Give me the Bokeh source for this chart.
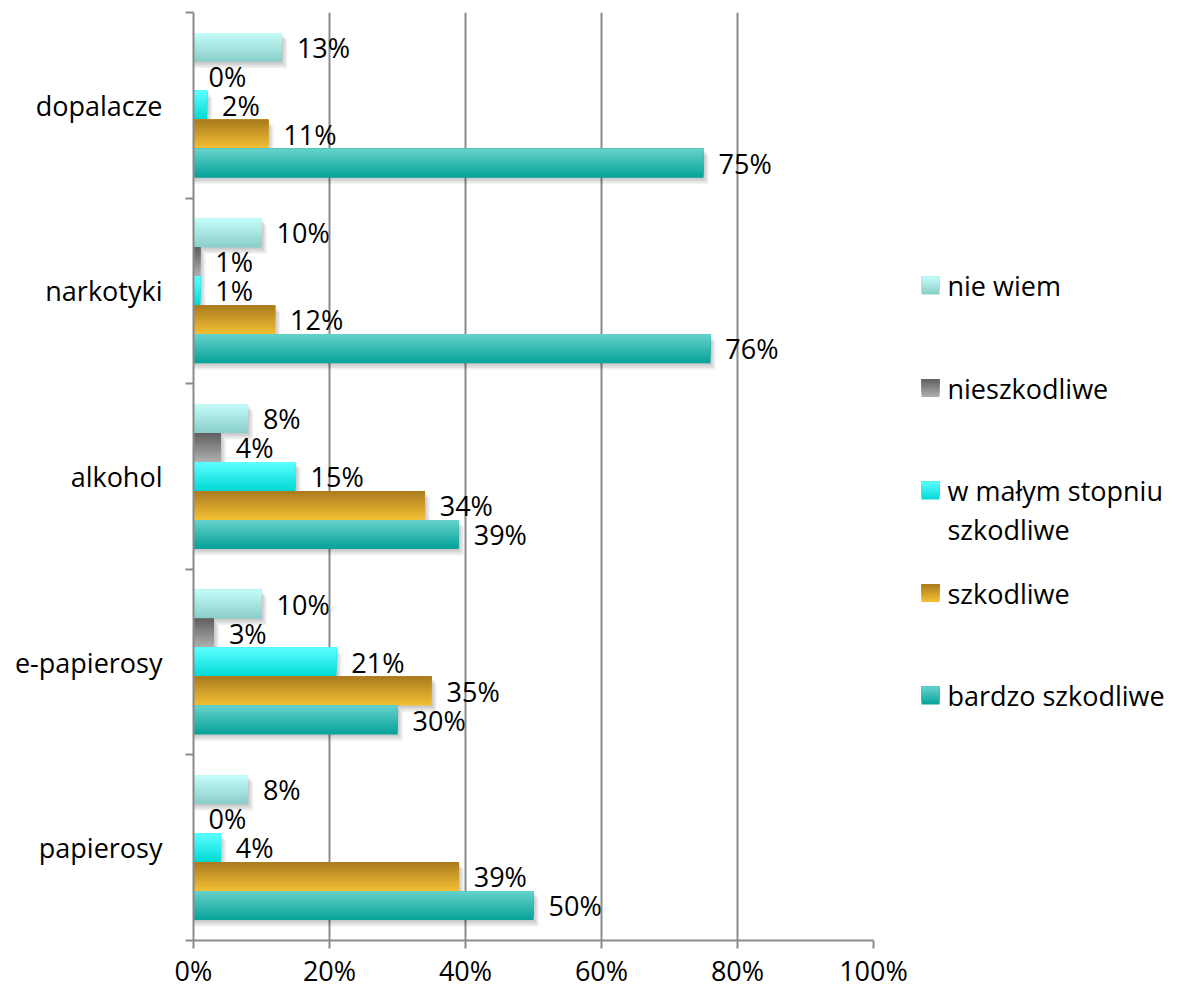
from bokeh.plotting import figure
from bokeh.models import Range1d, FixedTicker, PrintfTickFormatter
from bokeh.layouts import row
from bokeh.embed import file_html
from bokeh.resources import INLINE
from bokeh.core.properties import value

# ---------------- data ----------------
categories = ["dopalacze", "narkotyki", "alkohol", "e-papierosy", "papierosy"]
series_names = ["nie wiem", "nieszkodliwe", "w małym stopniu szkodliwe",
                "szkodliwe", "bardzo szkodliwe"]
nie_wiem = [13, 10, 8, 10, 8]
nieszkodliwe = [0, 1, 4, 3, 0]
w_malym_stopniu = [2, 1, 15, 21, 4]
szkodliwe = [11, 12, 34, 35, 39]
bardzo_szkodliwe = [75, 76, 39, 30, 50]
x_ticks = [0, 20, 40, 60, 80, 100]

# ---------------- style ----------------
FONT = "Open Sans"
FS = "27px"
GRID = "#8a8a8a"
series = [nie_wiem, nieszkodliwe, w_malym_stopniu, szkodliwe, bardzo_szkodliwe]
gradients = [("#c4fdf9", "#8acdc8"), ("#5f5f5f", "#b0b0b0"),
             ("#5cffff", "#00d9d5"), ("#a97b1e", "#f4c035"),
             ("#66d3cb", "#05a199")]


def lerp(c1, c2, t):
    a = [int(c1[i:i + 2], 16) for i in (1, 3, 5)]
    b = [int(c2[i:i + 2], 16) for i in (1, 3, 5)]
    return "#%02x%02x%02x" % tuple(round(a[k] + (b[k] - a[k]) * t) for k in range(3))


n = len(categories)
ypos = [n - 1 - i for i in range(n)]
group = 0.78
bh = group / len(series)
FRAME_W, FRAME_H = 680, 928
TOP = 12
px_y = n / FRAME_H
px_x = 100 / FRAME_W
H = 992

p = figure(width=913, height=H, x_range=Range1d(0, 100),
           y_range=Range1d(-0.5, n - 0.5), output_backend="svg",
           toolbar_location=None, min_border_left=193, min_border_right=40,
           min_border_top=TOP, min_border_bottom=52)
p.outline_line_color = None
p.background_fill_color = "white"
p.ygrid.visible = False
p.xgrid.grid_line_color = GRID
p.xgrid.grid_line_width = 2

# shadows
for s_i, vals in enumerate(series):
    off = group / 2 - bh / 2 - s_i * bh
    for k in range(1, 5):
        p.hbar(y=[y + off - k * 1.6 * px_y for y in ypos], left=0,
               right=[v + k * 1.3 * px_x if v else 0 for v in vals],
               height=bh, fill_color="black", fill_alpha=0.055, line_color=None)

# bars with vertical gradient (layered from the top edge)
N = 14
for s_i, vals in enumerate(series):
    off = group / 2 - bh / 2 - s_i * bh
    c_top, c_bot = gradients[s_i]
    for j in range(N - 1, -1, -1):
        t = (j + 0.5) / N
        hj = (j + 1) / N * bh
        yc = [y + off + bh / 2 - hj / 2 for y in ypos]
        p.hbar(y=yc, left=0, right=vals, height=hj,
               fill_color=lerp(c_top, c_bot, t), line_color=None)

# value labels
for s_i, vals in enumerate(series):
    off = group / 2 - bh / 2 - s_i * bh
    p.text(x=vals, y=[y + off for y in ypos], text=[f"{v}%" for v in vals],
           x_offset=15, text_baseline="middle", text_align="left",
           text_font=value(FONT), text_font_size=FS, text_color="black")

# x axis
xa = p.xaxis[0]
xa.ticker = FixedTicker(ticks=x_ticks)
xa.formatter = PrintfTickFormatter(format="%d%%")
xa.major_label_text_font = FONT
xa.major_label_text_font_size = FS
xa.major_label_text_color = "black"
xa.axis_line_color = GRID
xa.axis_line_width = 2
xa.major_tick_line_color = GRID
xa.major_tick_line_width = 2
xa.major_tick_out = 8
xa.major_tick_in = 0
xa.minor_tick_line_color = None
xa.major_label_standoff = 3

# y axis
ya = p.yaxis[0]
ya.ticker = FixedTicker(ticks=ypos, minor_ticks=[k - 0.5 for k in range(n + 1)])
ya.major_label_overrides = {y: c for y, c in zip(ypos, categories)}
ya.major_label_text_font = FONT
ya.major_label_text_font_size = FS
ya.major_label_text_color = "black"
ya.axis_line_color = GRID
ya.axis_line_width = 2
ya.major_tick_line_color = None
ya.major_tick_out = 0
ya.major_tick_in = 0
ya.minor_tick_line_color = GRID
ya.minor_tick_line_width = 2
ya.minor_tick_out = 8
ya.minor_tick_in = 0
ya.major_label_standoff = 23

# ---------------- legend (separate panel, frame aligned with main frame) ----------------
LW = 256
lf = figure(width=LW, height=H, x_range=Range1d(0, LW),
            y_range=Range1d(TOP + FRAME_H, TOP),
            output_backend="svg", toolbar_location=None,
            min_border_left=0, min_border_right=0, min_border_top=TOP,
            min_border_bottom=H - TOP - FRAME_H)
lf.axis.visible = False
lf.grid.visible = False
lf.outline_line_color = None

leg_first, leg_step, line_step = 285, 102.5, 39
mk_x, mk_size, txt_x = 8, 18, 34
for s_i, name in enumerate(series_names):
    yc = leg_first + s_i * leg_step
    c_top, c_bot = gradients[s_i]
    M = 8
    for j in range(M - 1, -1, -1):
        t = (j + 0.5) / M
        hj = (j + 1) / M * mk_size
        lf.hbar(y=[yc - mk_size / 2 + hj / 2], left=mk_x, right=mk_x + mk_size,
                height=hj, fill_color=lerp(c_top, c_bot, t), line_color=None)
    lines = ["w małym stopniu", "szkodliwe"] if name == "w małym stopniu szkodliwe" else [name]
    lf.text(x=[txt_x] * len(lines), y=[yc + k * line_step for k in range(len(lines))],
            text=lines, text_baseline="middle", text_align="left",
            text_font=value(FONT), text_font_size=FS, text_color="black")

layout = row(p, lf)
open("out.html", "w").write(file_html(layout, INLINE))
